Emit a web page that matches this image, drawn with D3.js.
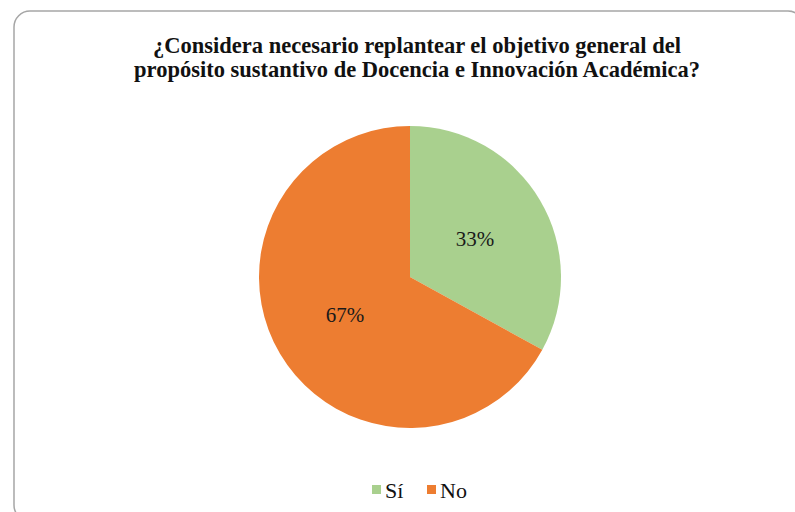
<!DOCTYPE html>
<html>
<head>
<meta charset="utf-8">
<script src="https://cdn.jsdelivr.net/npm/d3@7"></script>
<style>
  html, body { margin: 0; padding: 0; background: #fff; }
  svg { display: block; }
</style>
</head>
<body>
<svg id="chart" width="795" height="512"></svg>
<script>
// Survey answers
const categories = ["Sí", "No"];
const values = [33, 67];
const colors = ["#a9d08e", "#ed7d31"];
const titleLines = [
  "¿Considera necesario replantear el objetivo general del",
  "propósito sustantivo de Docencia e Innovación Académica?"
];

const svg = d3.select("#chart");
const serif = "'Liberation Serif', 'Times New Roman', serif";

// Chart frame
svg.append("rect")
  .attr("x", 14).attr("y", 11)
  .attr("width", 790).attr("height", 510)
  .attr("rx", 16).attr("ry", 16)
  .attr("fill", "#fff")
  .attr("stroke", "#a6a6a6")
  .attr("stroke-width", 1.5);

// Title
svg.append("text")
  .attr("y", 53)
  .attr("text-anchor", "middle")
  .attr("font-family", serif)
  .attr("font-weight", "bold")
  .attr("font-size", 22.5)
  .attr("fill", "#111")
  .selectAll("tspan")
  .data(titleLines)
  .join("tspan")
  .attr("x", 417)
  .attr("dy", (d, i) => i === 0 ? 0 : 24)
  .text(d => d);

// Pie
const cx = 410, cy = 277, r = 151;
const pie = d3.pie().sort(null).value(d => d.value);
const arcs = pie(categories.map((c, i) => ({ name: c, value: values[i], color: colors[i] })));
const arc = d3.arc().innerRadius(0).outerRadius(r);
const labelArc = d3.arc().innerRadius(r * 0.5).outerRadius(r * 0.5);

const g = svg.append("g").attr("transform", `translate(${cx},${cy})`);
g.selectAll("path")
  .data(arcs)
  .join("path")
  .attr("d", arc)
  .attr("fill", d => d.data.color);

g.selectAll("text")
  .data(arcs)
  .join("text")
  .attr("transform", d => `translate(${labelArc.centroid(d)})`)
  .attr("text-anchor", "middle")
  .attr("dominant-baseline", "central")
  .attr("font-family", serif)
  .attr("font-size", 21)
  .attr("fill", "#1a1a1a")
  .text(d => d.data.value + "%");

// Legend
const legend = svg.append("g").attr("transform", "translate(372,490)");
const items = legend.selectAll("g")
  .data(categories)
  .join("g")
  .attr("transform", (d, i) => `translate(${i * 55},0)`);
items.append("rect")
  .attr("x", 0).attr("y", -5)
  .attr("width", 9).attr("height", 9)
  .attr("fill", (d, i) => colors[i]);
items.append("text")
  .attr("x", 13).attr("y", 0)
  .attr("dominant-baseline", "central")
  .attr("font-family", serif)
  .attr("font-size", 22)
  .attr("fill", "#111")
  .text(d => d);
</script>
</body>
</html>
